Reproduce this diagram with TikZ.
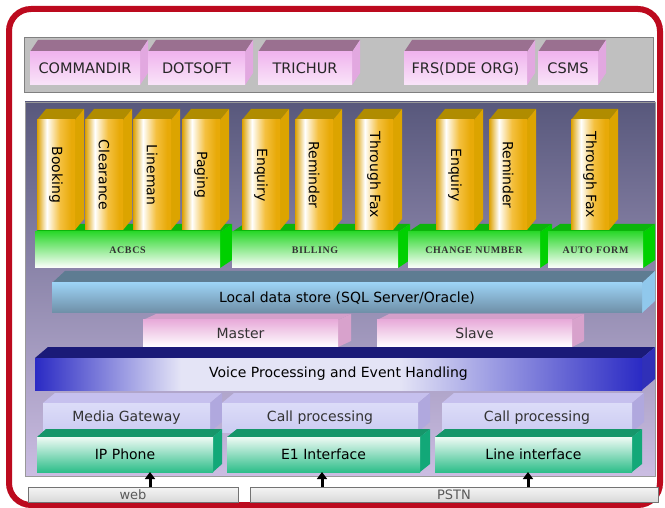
\documentclass[tikz,border=0pt]{standalone}
\usepackage{fontspec}
\setmainfont{DejaVu Sans}
\newfontfamily\barfont{Liberation Serif}[LetterSpace=6.0]
\usetikzlibrary{arrows.meta}
\definecolor{framered}{HTML}{BC0A1E}
\definecolor{graybar}{HTML}{C0C0C0}
\definecolor{pinkA}{HTML}{F0B4EE}
\definecolor{pinkTop}{HTML}{9A7090}
\definecolor{pinkSide}{HTML}{E2A8E0}
\definecolor{panelTop}{HTML}{58587C}
\definecolor{panelMid}{HTML}{AEA0C8}
\definecolor{panelBot}{HTML}{CBBDE2}
\definecolor{goldL}{HTML}{DCA000}
\definecolor{goldM}{HTML}{F4C040}
\definecolor{goldR}{HTML}{E8AA08}
\definecolor{goldTop}{HTML}{B08C00}
\definecolor{goldSide}{HTML}{DCA400}
\definecolor{grnA}{HTML}{2ED82E}
\definecolor{grnTop}{HTML}{0CB40C}
\definecolor{grnSide}{HTML}{00D000}
\definecolor{dsA}{HTML}{9CD2F4}
\definecolor{dsB}{HTML}{6E8EA6}
\definecolor{dsTop}{HTML}{5E7C92}
\definecolor{dsSide}{HTML}{90C8EC}
\definecolor{msA}{HTML}{E8ACDA}
\definecolor{msTop}{HTML}{D4A0CA}
\definecolor{msSide}{HTML}{D8A2CC}
\definecolor{vBlue}{HTML}{2A2AC4}
\definecolor{vWhite}{HTML}{E4E4F6}
\definecolor{vTop}{HTML}{1A1A78}
\definecolor{vSide}{HTML}{3030B8}
\definecolor{lavA}{HTML}{DCDCF8}
\definecolor{lavB}{HTML}{CCCCF2}
\definecolor{lavTop}{HTML}{C6C0EE}
\definecolor{lavSide}{HTML}{B0A8DE}
\definecolor{tealA}{HTML}{EEFAF4}
\definecolor{tealB}{HTML}{2EBE8A}
\definecolor{tealTop}{HTML}{16966A}
\definecolor{tealSide}{HTML}{12A878}
\pgfdeclarehorizontalshading{colshade}{100bp}{color(0bp)=(goldL); color(25bp)=(goldL); color(38bp)=(white); color(55bp)=(goldM); color(70bp)=(goldR); color(100bp)=(goldR)}
\pgfdeclarehorizontalshading{voiceshade}{100bp}{color(0bp)=(vBlue); color(25bp)=(vBlue); color(37bp)=(vWhite); color(55bp)=(vWhite); color(75bp)=(vBlue); color(100bp)=(vBlue)}
\newcommand\blk[9]{%
  \fill[#8top] (#2,#3) -- (#2+#6,#3+#7) -- (#4+#6,#3+#7) -- (#4,#3) -- cycle;
  \fill[#8side] (#4,#3) -- (#4+#6,#3+#7) -- (#4+#6,#5+#7) -- (#4,#5) -- cycle;
  \node[#8front, anchor=north west, inner sep=0pt, outer sep=0pt,
        minimum width={(#4-#2)*1pt}, minimum height={(#5-#3)*1pt}] (#1) at (#2,#3) {#9};
}
\tikzset{
  pinktop/.style={fill=pinkTop}, pinkside/.style={fill=pinkSide},
  pinkfront/.style={top color=pinkA, middle color=white, bottom color=pinkA!35!white, font=\fontsize{14.5}{16}\selectfont, text=black!85},
  coltop/.style={fill=goldTop}, colside/.style={fill=goldSide},
  colfront/.style={shade, shading=colshade, font=\fontsize{14}{16}\selectfont},
  grntop/.style={fill=grnTop}, grnside/.style={fill=grnSide},
  grnfront/.style={top color=grnA, bottom color=white, font=\barfont\bfseries\fontsize{10}{12}\selectfont, text=black!80},
  dstop/.style={fill=dsTop}, dsside/.style={fill=dsSide},
  dsfront/.style={top color=dsA, middle color=dsA!90!black, bottom color=dsB, font=\fontsize{14}{16}\selectfont},
  mstop/.style={fill=msTop}, msside/.style={fill=msSide},
  msfront/.style={top color=msA, middle color=white, bottom color=white, font=\fontsize{14}{16}\selectfont, text=black!80},
  vtop/.style={fill=vTop}, vside/.style={fill=vSide},
  vfront/.style={shade, shading=voiceshade, font=\fontsize{14}{16}\selectfont},
  lavtop/.style={fill=lavTop}, lavside/.style={fill=lavSide},
  lavfront/.style={top color=lavA, bottom color=lavB, font=\fontsize{14}{16}\selectfont, text=black!80},
  tltop/.style={fill=tealTop}, tlside/.style={fill=tealSide},
  tlfront/.style={top color=tealA, bottom color=tealB, font=\fontsize{14}{16}\selectfont},
  netbar/.style={draw=black!55, line width=0.9pt, top color=white!96!black, bottom color=black!15, inner sep=0pt, outer sep=0pt, anchor=north west, font=\fontsize{13}{15}\selectfont, text=black!65},
  uparrow/.style={line width=3pt, -{Triangle[width=10pt,length=7pt]}, black}
}
\begin{document}
\begin{tikzpicture}[x=1pt,y=-1pt]
\useasboundingbox (0,0) rectangle (665,508);
% frame
\fill[white] (0,0) rectangle (665,508);
\draw[framered, line width=6pt, rounded corners=22pt] (9,9) rectangle (660,505);
% top gray bar
\fill[graybar, draw=black!50, line width=0.8pt] (24,37) rectangle (653,92);
\blk{cmd}{30}{52}{140}{85}{8}{-12}{pink}{COMMANDIR}
\blk{dot}{148}{52}{245}{85}{8}{-12}{pink}{DOTSOFT}
\blk{tri}{258}{52}{352}{85}{8}{-12}{pink}{TRICHUR}
\blk{frs}{404}{52}{527}{85}{8}{-12}{pink}{FRS(DDE ORG)}
\blk{csms}{538}{52}{598}{85}{8}{-12}{pink}{CSMS}
% panel
\shade[top color=panelTop, middle color=panelMid, bottom color=panelBot, draw=black!40, line width=0.8pt] (25,102) rectangle (655,476);
% green bars
\blk{acbcs}{35}{232}{220}{268}{12}{-8}{grn}{ACBCS}
\blk{billing}{232}{232}{398}{268}{12}{-8}{grn}{BILLING}
\blk{chg}{408}{232}{540}{268}{12}{-8}{grn}{CHANGE NUMBER}
\blk{auto}{548}{232}{643}{268}{12}{-8}{grn}{AUTO FORM}
% columns
\blk{booking}{37}{120}{75}{230}{9}{-11}{col}{\rotatebox{-90}{Booking}}
\blk{clear}{85}{120}{123}{230}{9}{-11}{col}{\rotatebox{-90}{Clearance}}
\blk{lineman}{133}{120}{171}{230}{9}{-11}{col}{\rotatebox{-90}{Lineman}}
\blk{paging}{182}{120}{220}{230}{9}{-11}{col}{\rotatebox{-90}{Paging}}
\blk{enq1}{242}{120}{280}{230}{9}{-11}{col}{\rotatebox{-90}{Enquiry}}
\blk{rem1}{295}{120}{333}{230}{9}{-11}{col}{\rotatebox{-90}{Reminder}}
\blk{fax1}{355}{120}{393}{230}{9}{-11}{col}{\rotatebox{-90}{Through Fax}}
\blk{enq2}{436}{120}{474}{230}{9}{-11}{col}{\rotatebox{-90}{Enquiry}}
\blk{rem2}{489}{120}{527}{230}{9}{-11}{col}{\rotatebox{-90}{Reminder}}
\blk{fax2}{571}{120}{609}{230}{9}{-11}{col}{\rotatebox{-90}{Through Fax}}
% data store
\blk{ds}{52}{283}{642}{313}{13}{-12}{ds}{Local data store (SQL Server/Oracle)}
\blk{master}{143}{320}{338}{347}{13}{-6}{ms}{Master}
\blk{slave}{377}{320}{572}{347}{12}{-6}{ms}{Slave}
% voice
\blk{voice}{35}{358}{642}{390}{13}{-11}{v}{Voice Processing and Event Handling}
% processing boxes
\blk{mg}{43}{403}{210}{432}{12}{-10}{lav}{Media Gateway}
\blk{cp1}{222}{403}{418}{432}{12}{-10}{lav}{Call processing}
\blk{cp2}{442}{403}{632}{432}{12}{-10}{lav}{Call processing}
% interfaces
\blk{ip}{37}{437}{213}{472}{9}{-8}{tl}{IP Phone}
\blk{e1}{227}{437}{420}{472}{10}{-8}{tl}{E1 Interface}
\blk{line}{435}{437}{632}{472}{10}{-8}{tl}{Line interface}
% network bars
\node[netbar, minimum width=210pt, minimum height=15pt] (web) at (28,487) {web};
\node[netbar, minimum width=408pt, minimum height=15pt] (pstn) at (250,487) {PSTN};
% arrows
\coordinate (a1) at (150,487);
\coordinate (a2) at (322,487);
\coordinate (a3) at (528,487);
\draw[uparrow] (web.north -| a1) -- (ip.south -| a1);
\draw[uparrow] (pstn.north -| a2) -- (e1.south -| a2);
\draw[uparrow] (pstn.north -| a3) -- (line.south -| a3);
\end{tikzpicture}
\end{document}
